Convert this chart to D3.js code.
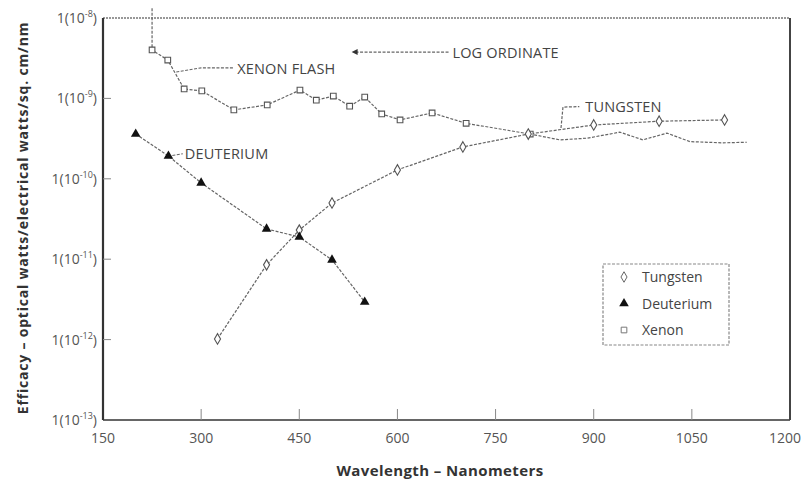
<!DOCTYPE html>
<html>
<head>
<meta charset="utf-8">
<script src="https://cdn.jsdelivr.net/npm/d3@7"></script>
<style>
  body { margin: 0; background: #fff; }
  svg { display: block; font-family: 'Open Sans', 'DejaVu Sans', sans-serif; }
  .tick-label { font-size: 14px; fill: #555; }
  .note { font-size: 14.5px; fill: #444; letter-spacing: 0.2px; }
  .curve { fill: none; stroke: #666; stroke-width: 1.2; stroke-dasharray: 3,1.5; }
</style>
</head>
<body>
<svg id="chart" width="802" height="481"></svg>
<script>
  // Xenon flash lamp (open squares), wavelength nm / efficacy
  var xenonWl  = [225, 249, 274, 301, 350, 401, 451, 476, 502, 527, 550, 576, 604, 653, 705, 803];
  var xenonEff = [4.0e-9, 3.0e-9, 1.31e-9, 1.24e-9, 7.2e-10, 8.3e-10, 1.27e-9, 9.5e-10, 1.07e-9,
                  8.0e-10, 1.04e-9, 6.4e-10, 5.4e-10, 6.6e-10, 4.9e-10, 3.6e-10];
  // unmarked parts of the xenon trace (flash spike above the frame, tail past 800 nm)
  var xenonTopWl = 225, xenonTopEff = 1.32e-8;
  var xenonTailWl  = [848, 890, 940, 975, 1012, 1047, 1097, 1134];
  var xenonTailEff = [3.05e-10, 3.2e-10, 3.8e-10, 3.05e-10, 3.7e-10, 2.9e-10, 2.8e-10, 2.85e-10];

  // Deuterium (filled triangles)
  var deutWl  = [200, 250, 300, 400, 450, 500, 550];
  var deutEff = [3.6e-10, 1.92e-10, 8.9e-11, 2.38e-11, 1.89e-11, 9.8e-12, 2.94e-12];

  // Tungsten (open diamonds)
  var tungWl  = [325, 400, 450, 500, 600, 700, 800, 900, 1000, 1100];
  var tungEff = [1.02e-12, 8.5e-12, 2.3e-11, 5.0e-11, 1.29e-10, 2.49e-10, 3.6e-10, 4.67e-10, 5.2e-10, 5.4e-10];

  var xTicks = [150, 300, 450, 600, 750, 900, 1050, 1200];
  var yExps  = [-8, -9, -10, -11, -12, -13];
  var legendNames = ['Tungsten', 'Deuterium', 'Xenon'];

  var svg = d3.select('#chart');
  var mLeft = 103, mRight = 790, mTop = 18, mBottom = 420;

  var x = d3.scaleLinear().domain([150, 1200]).range([mLeft, mRight]);
  var y = d3.scaleLog().domain([1e-13, 1e-8]).range([mBottom, mTop]);

  function zip(a, b) { return a.map(function(v, i) { return [v, b[i]]; }); }

  var line = d3.line()
    .x(function(d) { return x(d[0]); })
    .y(function(d) { return y(d[1]); });

  // Frame
  var frame = svg.append('g');
  frame.append('line').attr('x1', mLeft).attr('x2', mRight).attr('y1', mTop).attr('y2', mTop)
    .attr('stroke', '#777').attr('stroke-width', 1.5).attr('stroke-dasharray', '2,1');
  frame.append('line').attr('x1', mLeft).attr('x2', mRight).attr('y1', mBottom).attr('y2', mBottom)
    .attr('stroke', '#666').attr('stroke-width', 1.8);
  frame.append('line').attr('x1', mLeft).attr('x2', mLeft).attr('y1', mTop).attr('y2', mBottom)
    .attr('stroke', '#333').attr('stroke-width', 2.2);
  frame.append('line').attr('x1', mRight).attr('x2', mRight).attr('y1', mTop).attr('y2', mBottom)
    .attr('stroke', '#444').attr('stroke-width', 2);

  // X ticks (inside) and labels
  var xg = svg.append('g');
  xTicks.forEach(function(t) {
    if (t > 150 && t < 1200) {
      xg.append('line').attr('x1', x(t)).attr('x2', x(t)).attr('y1', mBottom).attr('y2', mBottom - 11)
        .attr('stroke', '#888').attr('stroke-width', 1);
    }
    var last = t === 1200;
    xg.append('text').attr('class', 'tick-label')
      .attr('x', last ? 801 : x(t)).attr('y', mBottom + 23)
      .attr('text-anchor', last ? 'end' : 'middle').text(t);
  });

  // Y ticks and labels 1(10^n)
  var yg = svg.append('g');
  yExps.forEach(function(e) {
    var v = Math.pow(10, e);
    if (e < -8 && e > -13) {
      yg.append('line').attr('x1', mLeft).attr('x2', mLeft + 8).attr('y1', y(v)).attr('y2', y(v))
        .attr('stroke', '#888').attr('stroke-width', 1);
    }
    var t = yg.append('text').attr('class', 'tick-label').attr('x', mLeft - 6).attr('y', y(v) + 5)
      .attr('text-anchor', 'end');
    t.append('tspan').text('1(10');
    t.append('tspan').attr('font-size', '9px').attr('dy', -6).text(e);
    t.append('tspan').attr('dy', 6).text(')');
  });

  // Axis titles
  svg.append('text').attr('x', 440).attr('y', 476)
    .attr('text-anchor', 'middle').attr('font-size', '15px').attr('font-weight', 'bold')
    .attr('letter-spacing', '0.4px').attr('fill', '#333').text('Wavelength – Nanometers');
  svg.append('text').attr('transform', 'translate(28,218) rotate(-90)')
    .attr('text-anchor', 'middle').attr('font-size', '14px').attr('font-weight', 'bold')
    .attr('letter-spacing', '0.8px').attr('fill', '#333')
    .text('Efficacy – optical watts/electrical watts/sq. cm/nm');

  // Curves
  var xenonLine = [[xenonTopWl, xenonTopEff]].concat(zip(xenonWl, xenonEff), zip(xenonTailWl, xenonTailEff));
  svg.append('path').datum(xenonLine).attr('class', 'curve').attr('d', line);
  svg.append('path').datum(zip(deutWl, deutEff)).attr('class', 'curve').attr('d', line);
  svg.append('path').datum(zip(tungWl, tungEff)).attr('class', 'curve').attr('d', line);

  // Markers
  var sym = {
    square: d3.symbol().type(d3.symbolSquare).size(32),
    tri: d3.symbol().type(d3.symbolTriangle).size(40),
    diamond: d3.symbol().type(d3.symbolDiamond).size(32)
  };
  svg.append('g').selectAll('path').data(zip(xenonWl, xenonEff)).enter().append('path')
    .attr('d', sym.square)
    .attr('transform', function(d) { return 'translate(' + x(d[0]) + ',' + y(d[1]) + ')'; })
    .attr('fill', '#fff').attr('stroke', '#555').attr('stroke-width', 1.1);
  svg.append('g').selectAll('path').data(zip(tungWl, tungEff)).enter().append('path')
    .attr('d', sym.diamond)
    .attr('transform', function(d) { return 'translate(' + x(d[0]) + ',' + y(d[1]) + ')'; })
    .attr('fill', '#fff').attr('stroke', '#555').attr('stroke-width', 1.1);
  svg.append('g').selectAll('path').data(zip(deutWl, deutEff)).enter().append('path')
    .attr('d', sym.tri)
    .attr('transform', function(d) { return 'translate(' + x(d[0]) + ',' + y(d[1]) + ')'; })
    .attr('fill', '#111');

  // Annotations (anchored in data space)
  var ann = svg.append('g');
  ann.append('path').attr('class', 'curve')
    .attr('d', line([[262, 2.13e-9], [300, 2.4e-9], [349, 2.4e-9]]));
  ann.append('text').attr('class', 'note').attr('x', x(355)).attr('y', y(2.35e-9) + 5).text('XENON FLASH');

  ann.append('path').attr('class', 'curve')
    .attr('d', line([[536, 3.77e-9], [680, 3.77e-9]]));
  ann.append('path').attr('d', 'M' + x(530) + ',' + y(3.77e-9) + 'l6,-3l0,6z').attr('fill', '#333');
  ann.append('text').attr('class', 'note').attr('x', x(684)).attr('y', y(3.77e-9) + 6).text('LOG ORDINATE');

  ann.append('path').attr('class', 'curve')
    .attr('d', line([[850, 4.28e-10], [853, 7.8e-10], [878, 7.9e-10]]));
  ann.append('text').attr('class', 'note').attr('x', x(887)).attr('y', y(7.9e-10) + 5).text('TUNGSTEN');

  ann.append('path').attr('class', 'curve')
    .attr('d', line([[256, 1.95e-10], [272, 2.05e-10]]));
  ann.append('text').attr('class', 'note').attr('x', x(275)).attr('y', y(2.05e-10) + 5).text('DEUTERIUM');

  // Legend
  var lg = svg.append('g').attr('transform', 'translate(603,264)');
  lg.append('rect').attr('width', 126).attr('height', 81).attr('fill', '#fff')
    .attr('stroke', '#888').attr('stroke-width', 1.2).attr('stroke-dasharray', '3,1.5');
  legendNames.forEach(function(name, i) {
    var cy = 13 + i * 26.5;
    var g = lg.append('g').attr('transform', 'translate(21,' + cy + ')');
    if (i === 0) g.append('path').attr('d', sym.diamond).attr('fill', '#fff').attr('stroke', '#666');
    if (i === 1) g.append('path').attr('d', sym.tri).attr('fill', '#111');
    if (i === 2) g.append('path').attr('d', sym.square).attr('fill', '#fff').attr('stroke', '#777');
    lg.append('text').attr('x', 39).attr('y', cy + 5).attr('font-size', '14px').attr('fill', '#444').text(name);
  });
</script>
</body>
</html>
